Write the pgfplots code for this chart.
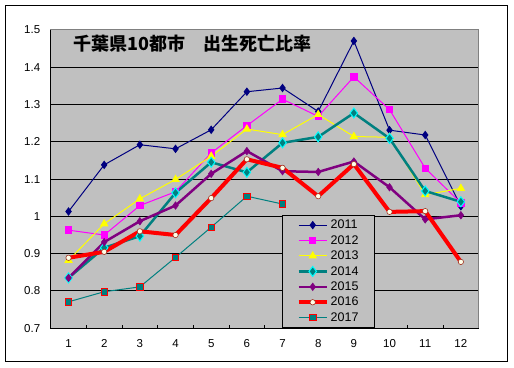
\documentclass[border=0pt]{standalone}
\usepackage{fontspec}
\setmainfont{Liberation Sans}
\newfontfamily\cjk{Noto Sans CJK JP}
\usepackage{pgfplots}
\pgfplotsset{compat=1.18}
\definecolor{plotbg}{HTML}{C0C0C0}
\definecolor{c2011}{HTML}{000080}
\definecolor{c2012}{HTML}{FF00FF}
\definecolor{c2013}{HTML}{FFFF00}
\definecolor{c2014}{HTML}{008080}
\definecolor{cyanb}{HTML}{00FFFF}
\definecolor{c2015}{HTML}{800080}
\definecolor{c2016}{HTML}{FF0000}
\definecolor{c2017}{HTML}{008080}
\definecolor{circfill}{HTML}{FFFFE8}
\definecolor{circdraw}{HTML}{A03020}
\begin{document}
\begin{tikzpicture}[x=1pt,y=1pt]
\path[use as bounding box] (0,0) rectangle (514,367);
\draw[black, line width=1pt, fill=white] (5.5,5.5) rectangle (507.5,361.5);
\begin{axis}[
  at={(50.7pt,38.7pt)}, anchor=south west,
  scale only axis, width=428pt, height=298.5pt,
  xmin=0.5, xmax=12.5, ymin=0.7, ymax=1.5,
  axis background/.style={fill=plotbg},
  axis line style={draw=gray, line width=0.8pt},
  xtick={1,2,3,4,5,6,7,8,9,10,11,12},
  xticklabels={1,2,3,4,5,6,7,8,9,10,11,12},
  major x tick style={draw=none},
  minor xtick={1.5,2.5,...,11.5},
  minor tick length=3.5pt,
  minor x tick style={black, line width=0.8pt},
  tick align=inside,
  xtick pos=bottom,
  ytick={0.7,0.8,0.9,1.0,1.1,1.2,1.3,1.4,1.5},
  yticklabels={0.7,0.8,0.9,1,1.1,1.2,1.3,1.4,1.5},
  major y tick style={draw=none},
  ytick pos=left,
  ymajorgrids,
  grid style={black, line width=1pt},
  yticklabel style={xshift=-7pt},
  xticklabel style={yshift=-8pt},
  tick label style={font=\fontsize{11.5}{13}\selectfont},
  legend cell align=left,
  legend style={at={(0.5412,0.002)}, anchor=south west, fill=plotbg, draw=black, line width=0.8pt,
    font=\fontsize{12.5}{14}\selectfont, row sep=1.2pt, inner xsep=14pt, inner ysep=2.5pt},
  legend image code/.code={\draw[mark repeat=2,mark phase=2] plot coordinates {(0pt,0pt) (14pt,0pt) (28pt,0pt)};},
  clip=false,
]
\addplot[c2011, line width=1pt, mark=diamond*, mark size=3.5pt, mark options={fill=c2011, draw=c2011}]
 coordinates {(1,1.013)(2,1.138)(3,1.192)(4,1.181)(5,1.232)(6,1.334)(7,1.344)(8,1.281)(9,1.470)(10,1.231)(11,1.218)(12,1.027)};
\addlegendentry{2011}
\addplot[c2012, line width=1pt, mark=square*, mark size=3.2pt, mark options={fill=c2012, draw=c2012}]
 coordinates {(1,0.963)(2,0.950)(3,1.029)(4,1.066)(5,1.170)(6,1.243)(7,1.314)(8,1.268)(9,1.374)(10,1.286)(11,1.129)(12,1.036)};
\addlegendentry{2012}
\addplot[c2013, line width=1pt, mark=triangle*, mark size=4pt, mark options={fill=c2013, draw=c2013}]
 coordinates {(1,0.882)(2,0.980)(3,1.047)(4,1.099)(5,1.161)(6,1.234)(7,1.219)(8,1.273)(9,1.214)(10,1.212)(11,1.058)(12,1.075)};
\addlegendentry{2013}
\addplot[c2014, line width=2.5pt, mark=diamond*, mark size=5pt, mark options={fill=c2014, draw=cyanb, line width=1pt}]
 coordinates {(1,0.835)(2,0.916)(3,0.947)(4,1.063)(5,1.145)(6,1.118)(7,1.197)(8,1.213)(9,1.277)(10,1.209)(11,1.068)(12,1.039)};
\addlegendentry{2014}
\addplot[c2015, line width=2.5pt, mark=diamond*, mark size=3.8pt, mark options={fill=c2015, draw=c2015, line width=0.5pt}]
 coordinates {(1,0.835)(2,0.931)(3,0.987)(4,1.029)(5,1.114)(6,1.175)(7,1.121)(8,1.119)(9,1.147)(10,1.078)(11,0.992)(12,1.003)};
\addlegendentry{2015}
\addplot[c2016, line width=4pt, mark=*, mark size=2.7pt, mark options={fill=circfill, draw=circdraw, line width=0.6pt}]
 coordinates {(1,0.889)(2,0.905)(3,0.960)(4,0.950)(5,1.049)(6,1.153)(7,1.130)(8,1.054)(9,1.140)(10,1.012)(11,1.014)(12,0.878)};
\addlegendentry{2016}
\addplot[c2017, line width=1pt, mark=square*, mark size=3.2pt, mark options={fill=c2017, draw=red, line width=0.8pt}]
 coordinates {(1,0.771)(2,0.798)(3,0.811)(4,0.890)(5,0.971)(6,1.054)(7,1.033)};
\addlegendentry{2017}
\draw[black, line width=1pt] (rel axis cs:0,1) -- (rel axis cs:0,0) -- (rel axis cs:1,0);
\draw[gray, line width=0.8pt] (rel axis cs:0,1) -- (rel axis cs:1,1) -- (rel axis cs:1,0);
\end{axis}
\node[anchor=base west, inner sep=0pt, font=\cjk\bfseries\fontsize{18}{20}\selectfont] at (73,316.5) {千葉県10都市　出生死亡比率};
\end{tikzpicture}
\end{document}
